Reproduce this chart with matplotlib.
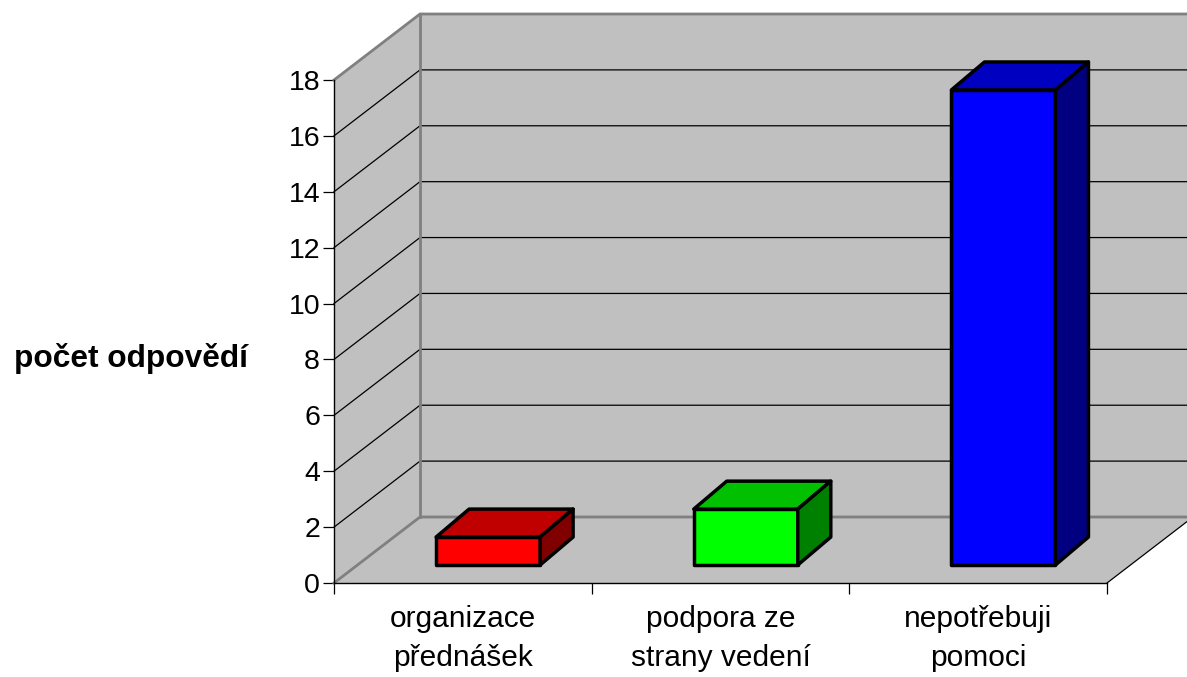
import numpy as np
import matplotlib
matplotlib.use("Agg")
import matplotlib.pyplot as plt
from matplotlib.patches import Polygon

plt.rcParams['font.family'] = ['Liberation Sans', 'DejaVu Sans']

# data
categories = ["organizace\npřednášek", "podpora ze\nstrany vedení", "nepotřebuji\npomoci"]
values = [1, 2, 17]
front_colors = ["#ff0000", "#00ff00", "#0000ff"]
top_colors = ["#c00000", "#00c000", "#0000c0"]
side_colors = ["#800000", "#008000", "#000080"]
y_ticks = [0, 2, 4, 6, 8, 10, 12, 14, 16, 18]
y_max = 18

W, H = 1187, 677
wall = "#c0c0c0"
edge = "#808080"

fig = plt.figure(figsize=(W / 100, H / 100), dpi=100)
ax = fig.add_axes([334 / W, 1 - 583 / H, (1107 - 334) / W, (583 - 80) / H])
ax.set_xlim(0, len(values))
ax.set_ylim(0, y_max)
ax.patch.set_visible(False)

# depth shift of the fake 3d box, in data units
dx = 86 / (773 / 3)
dy = 66 / (503 / 18)


def shift(x, y, d):
    return (x + dx * d, y + dy * d)


def poly(pts, **kw):
    ax.add_patch(Polygon(pts, closed=True, clip_on=False, **kw))


n = len(values)
# walls and floor
poly([shift(0, 0, 1), shift(n, 0, 1), shift(n, y_max, 1), shift(0, y_max, 1)], fc=wall, ec="none", zorder=1)
poly([shift(0, 0, 0), shift(0, 0, 1), shift(0, y_max, 1), shift(0, y_max, 0)], fc=wall, ec="none", zorder=1)
poly([shift(0, 0, 0), shift(n, 0, 0), shift(n, 0, 1), shift(0, 0, 1)], fc=wall, ec="none", zorder=1)

# gridlines
for t in y_ticks[1:-1]:
    a, b, c = shift(0, t, 0), shift(0, t, 1), shift(n, t, 1)
    ax.plot([a[0], b[0], c[0]], [a[1], b[1], c[1]], color="black", lw=0.9, clip_on=False, zorder=2)

# grey frame of the walls
a, b, c = shift(0, y_max, 0), shift(0, y_max, 1), shift(n, y_max, 1)
ax.plot([a[0], b[0], c[0]], [a[1], b[1], c[1]], color=edge, lw=2, clip_on=False, zorder=3)
a, b, c = shift(0, 0, 0), shift(0, 0, 1), shift(n, 0, 1)
ax.plot([a[0], b[0], c[0]], [a[1], b[1], c[1]], color=edge, lw=2, clip_on=False, zorder=3)
a, b = shift(0, 0, 1), shift(0, y_max, 1)
ax.plot([a[0], b[0]], [a[1], b[1]], color=edge, lw=2, clip_on=False, zorder=3)

# thin line on right edge of the floor
a, b = shift(n, 0, 0), shift(n, 0, 1)
ax.plot([a[0], b[0]], [a[1], b[1]], color="black", lw=0.9, clip_on=False, zorder=3)

# bars
bar_w = 104 / (773 / 3)
bar_dx = 33 / (773 / 3)
bar_dy = 1.0
d0 = 0.273
for i, v in enumerate(values):
    x0, y0 = shift(i + 0.507 - bar_w / 2, 0, d0)
    x1 = x0 + bar_w
    y1 = y0 + v
    style = dict(ec="black", lw=2.5, joinstyle="round", zorder=5)
    poly([(x0, y0), (x1, y0), (x1, y1), (x0, y1)], fc=front_colors[i], **style)
    poly([(x0, y1), (x1, y1), (x1 + bar_dx, y1 + bar_dy), (x0 + bar_dx, y1 + bar_dy)], fc=top_colors[i], **style)
    poly([(x1, y0), (x1 + bar_dx, y0 + bar_dy), (x1 + bar_dx, y1 + bar_dy), (x1, y1)], fc=side_colors[i], **style)

# axes
for s in ["top", "right"]:
    ax.spines[s].set_visible(False)
for s in ["left", "bottom"]:
    ax.spines[s].set_linewidth(1.0)
    ax.spines[s].set_zorder(4)
ax.set_yticks(y_ticks)
ax.tick_params(axis="y", labelsize=20.5, length=8, width=0.9, pad=2)
ax.set_xticks(np.arange(n + 1))
ax.set_xticklabels([])
ax.tick_params(axis="x", which="major", length=8, width=0.9)
ax.set_xticks(np.arange(n) + 0.5, minor=True)
ax.set_xticklabels(categories, minor=True, fontsize=21.5, linespacing=1.48)
ax.tick_params(axis="x", which="minor", length=0, pad=16)

fig.text(131 / W, 1 - 359 / H, "počet odpovědí", fontsize=22.8, fontweight="bold", ha="center", va="center")

fig.savefig("out.png", dpi=100)
